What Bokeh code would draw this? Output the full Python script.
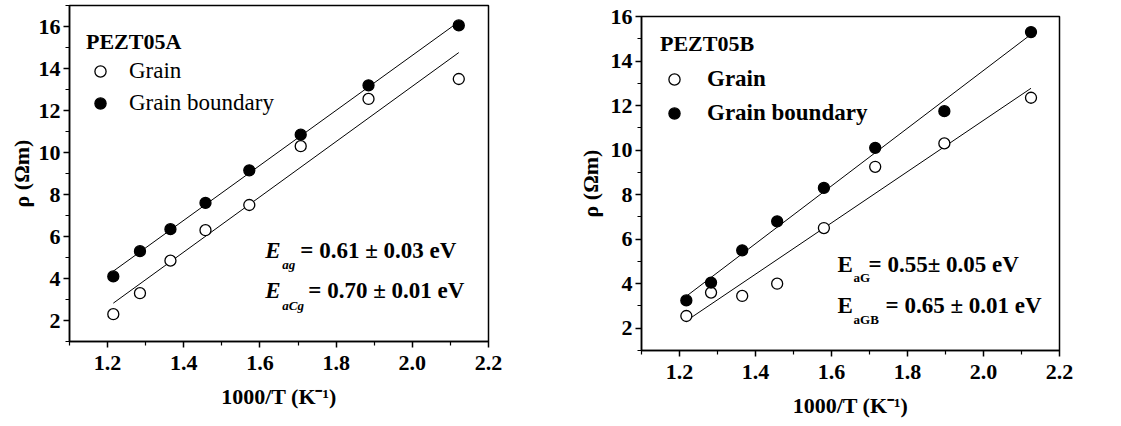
import numpy as np
from bokeh.plotting import figure
from bokeh.layouts import row, column
from bokeh.models import Range1d, FixedTicker, Legend, LegendItem, Label
from bokeh.embed import file_html
from bokeh.resources import INLINE

# ---------------- data ----------------
x_ticks = [1.2, 1.4, 1.6, 1.8, 2.0, 2.2]
x_tick_labels = ["1.2", "1.4", "1.6", "1.8", "2.0", "2.2"]
x_minor = [1.1, 1.3, 1.5, 1.7, 1.9, 2.1]
y_ticks = [2, 4, 6, 8, 10, 12, 14, 16]
y_minor = [1, 3, 5, 7, 9, 11, 13, 15, 17]

# Panel A (PEZT05A)
a_x = [1.215, 1.285, 1.365, 1.457, 1.572, 1.707, 1.885, 2.122]
a_grain = [2.3, 3.3, 4.85, 6.3, 7.5, 10.3, 12.55, 13.5]
a_gb = [4.1, 5.3, 6.35, 7.6, 9.15, 10.85, 13.2, 16.05]

# Panel B (PEZT05B)
b_x = [1.218, 1.283, 1.365, 1.457, 1.580, 1.715, 1.897, 2.125]
b_grain = [2.55, 3.6, 3.45, 4.0, 6.5, 9.25, 10.3, 12.35]
b_gb = [3.25, 4.05, 5.5, 6.8, 8.3, 10.1, 11.75, 15.3]

FONT = "'Liberation Serif', 'Times New Roman', serif"


def style_axes(p, ylabel_standoff):
    p.xaxis.ticker = FixedTicker(ticks=x_ticks, minor_ticks=x_minor)
    p.xaxis.major_label_overrides = {t: l for t, l in zip(x_ticks, x_tick_labels)}
    p.yaxis.ticker = FixedTicker(ticks=y_ticks, minor_ticks=y_minor)
    for ax in (p.xaxis[0], p.yaxis[0]):
        ax.axis_line_color = "black"
        ax.axis_line_width = 1.5
        ax.major_tick_line_color = "black"
        ax.major_tick_line_width = 1.5
        ax.minor_tick_line_color = "black"
        ax.minor_tick_line_width = 1.2
        ax.major_tick_in = 0
        ax.major_tick_out = 6
        ax.minor_tick_in = 0
        ax.minor_tick_out = 4
        ax.major_label_text_font = FONT
        ax.major_label_text_font_style = "bold"
        ax.major_label_text_font_size = "22px"
        ax.major_label_text_color = "black"
        ax.axis_label_text_font = FONT
        ax.axis_label_text_font_style = "bold"
        ax.axis_label_text_font_size = "22px"
        ax.axis_label_text_color = "black"
    p.xaxis.major_label_standoff = 8
    p.yaxis.major_label_standoff = 3
    p.xaxis.axis_label_standoff = 11
    p.yaxis.axis_label_standoff = ylabel_standoff
    p.xaxis.axis_label = "1000/T (K\u207b\u00b9)"
    p.yaxis.axis_label = "\u03c1 (\u03a9m)"
    p.xgrid.visible = False
    p.ygrid.visible = False
    p.outline_line_color = "black"
    p.outline_line_width = 1.5
    p.background_fill_color = "white"
    p.border_fill_color = "white"


def panel(xs, grain, gb, ymax, width, height, borders, title, label_style,
          leg_loc, title_standoff, leg_spacing, label_standoff, ylabel_standoff):
    p = figure(width=width, height=height, output_backend="svg", toolbar_location=None,
               x_range=Range1d(1.1, 2.2), y_range=Range1d(1, ymax),
               min_border_left=borders[0], min_border_right=borders[1],
               min_border_top=borders[2], min_border_bottom=borders[3])
    style_axes(p, ylabel_standoff)
    xa = np.array(xs)
    for ys in (grain, gb):
        k, b = np.polyfit(xa, np.array(ys), 1)
        xf = [xa.min(), xa.max()]
        p.line(xf, [k * v + b for v in xf], line_color="black", line_width=1)
    rg = p.scatter(xs, grain, marker="circle", size=11, fill_color="white",
                   line_color="black", line_width=1.3)
    rb = p.scatter(xs, gb, marker="circle", size=11, fill_color="black",
                   line_color="black", line_width=1.3)
    leg = Legend(items=[LegendItem(label="Grain", renderers=[rg]),
                        LegendItem(label="Grain boundary", renderers=[rb])],
                 title=title, location=leg_loc)
    leg.title_text_font = FONT
    leg.title_text_font_style = "bold"
    leg.title_text_font_size = "22px"
    leg.title_text_color = "black"
    leg.title_standoff = title_standoff
    leg.label_text_font = FONT
    leg.label_text_font_style = label_style
    leg.label_text_font_size = "23px"
    leg.label_text_color = "black"
    leg.glyph_width = 28
    leg.glyph_height = 28
    leg.label_height = 28
    leg.label_standoff = label_standoff
    leg.spacing = leg_spacing
    leg.border_line_alpha = 0
    leg.background_fill_alpha = 0
    leg.margin = 0
    leg.padding = 4
    p.add_layout(leg)
    return p


p1 = panel(a_x, a_grain, a_gb, 17, 560, 420, (69, 72, 5, 79), "PEZT05A", "normal",
           (13, 220), 2, 4, 15, 2)
p2 = panel(b_x, b_grain, b_gb, 16, 556, 420, (81, 57, 16, 68), "PEZT05B", "bold",
           (15, 219), 8, 6, 19, 5)


def energy(p, x, y, main, sub, rest, sub_dx, rest_dx, sub_dy, italic):
    st = "bold italic" if italic else "bold"
    p.add_layout(Label(x=x, y=y, text=main, text_font=FONT, text_font_style=st,
                       text_font_size="23px", text_baseline="middle", text_color="black"))
    p.add_layout(Label(x=x, y=y, x_offset=sub_dx, y_offset=sub_dy, text=sub, text_font=FONT,
                       text_font_style=st, text_font_size="13px",
                       text_baseline="middle", text_color="black"))
    p.add_layout(Label(x=x, y=y, x_offset=rest_dx, text=rest, text_font=FONT,
                       text_font_style="bold", text_font_size="23px",
                       text_baseline="middle", text_color="black"))


energy(p1, 1.614, 5.33, "E", "ag", "= 0.61 \u00b1 0.03 eV", 17, 35, -14, True)
energy(p1, 1.614, 3.43, "E", "aCg", "= 0.70 \u00b1 0.01 eV", 17, 43, -15, True)
energy(p2, 1.616, 4.88, "E", "aG", "= 0.55\u00b1 0.05 eV", 16, 31, -13, False)
energy(p2, 1.616, 3.03, "E", "aGB", "= 0.65 \u00b1 0.01 eV", 16, 48, -14, False)

layout = row(column(p1), column(p2))
open("out.html", "w").write(file_html(layout, INLINE))
